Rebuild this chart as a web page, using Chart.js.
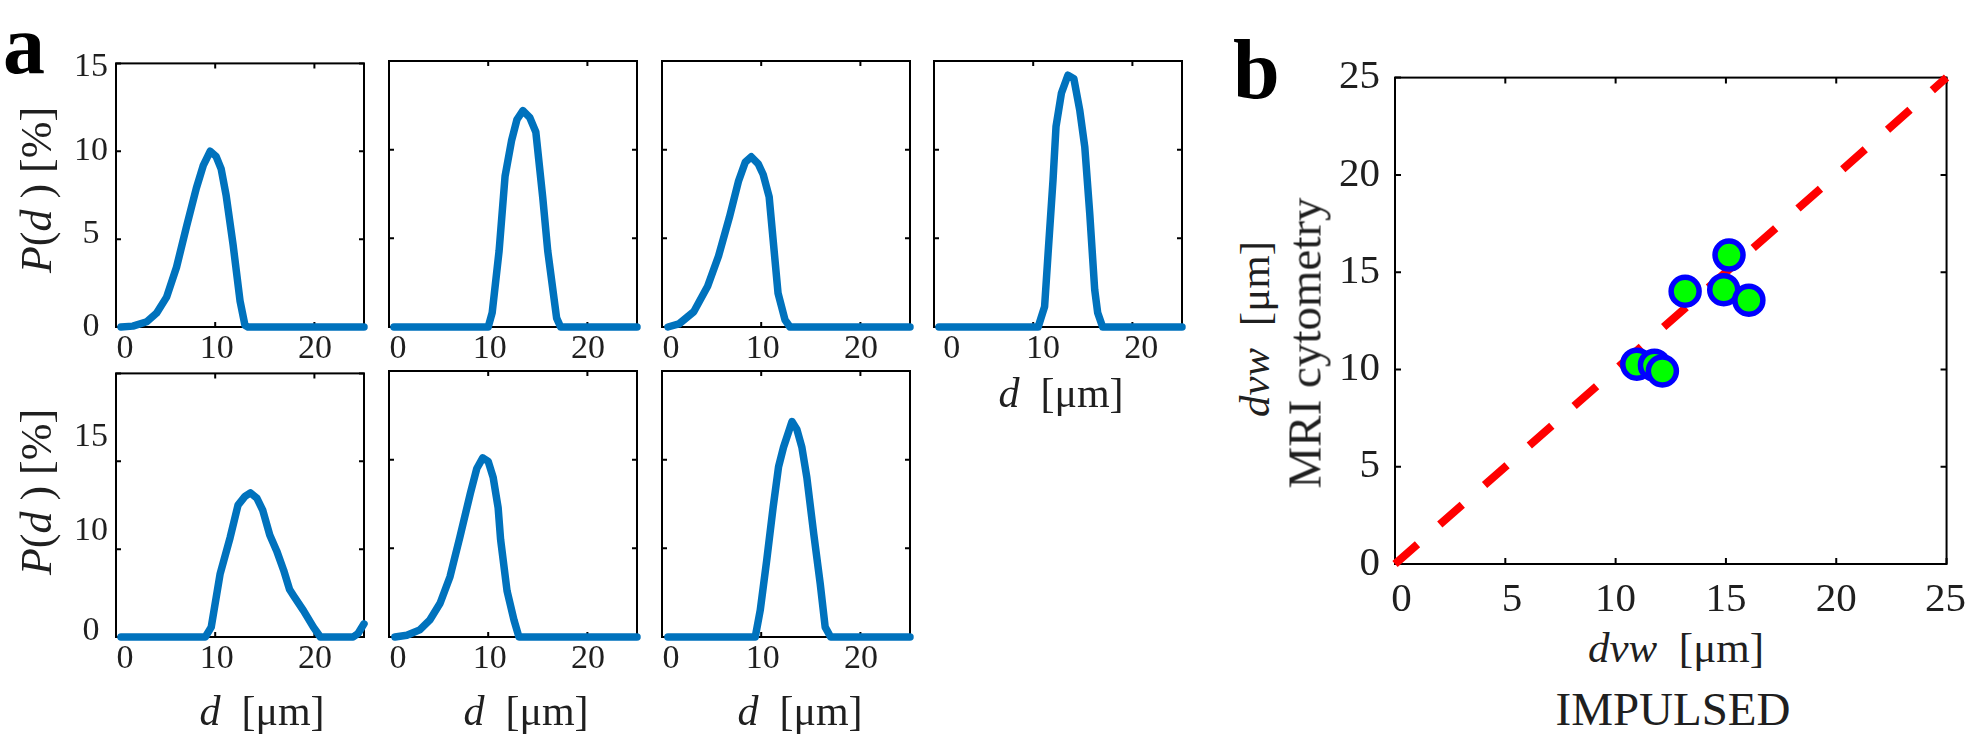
<!DOCTYPE html>
<html>
<head>
<meta charset="utf-8">
<script src="https://cdn.jsdelivr.net/npm/chart.js@4.4.1/dist/chart.umd.min.js"></script>
<style>
  body { margin: 0; background: #fff; }
  #fig { position: relative; width: 1976px; height: 741px; overflow: hidden;
         font-family: "Liberation Serif", "Times New Roman", serif; color: #1f1f1f; }
  .box { position: absolute; }
  .t { position: absolute; white-space: nowrap; line-height: 1; }
  .mid { transform: translateX(-50%); }
  .rot { transform: translate(-50%, -50%) rotate(-90deg); }
</style>
</head>
<body>
<div id="fig"></div>
<script>
// ---- size distributions P(d), one pair of arrays per small panel ----
const dA = [0.5, 1.7, 3.1, 4.1, 5.1, 6.1, 7.1, 8.1, 8.8, 9.5, 10.1, 10.6, 11.1, 11.8, 12.5, 13.0, 13.3, 25];
const pA = [0, 0.05, 0.3, 0.8, 1.7, 3.4, 5.7, 7.9, 9.2, 10.0, 9.7, 9.0, 7.5, 4.7, 1.5, 0.1, 0, 0];
const dB = [0.5, 10.0, 10.4, 11.1, 11.7, 12.35, 12.9, 13.5, 14.2, 14.8, 15.5, 16.0, 16.9, 17.3, 25];
const pB = [0, 0, 0.8, 4.3, 8.5, 10.5, 11.7, 12.2, 11.8, 11.0, 7.3, 4.3, 0.5, 0, 0];
const dC = [0.6, 1.7, 3.2, 4.6, 5.7, 6.8, 7.7, 8.4, 9.0, 9.7, 10.2, 10.8, 11.7, 12.4, 12.9, 25];
const pC = [0, 0.17, 0.86, 2.3, 4.0, 6.2, 8.2, 9.3, 9.6, 9.2, 8.6, 7.35, 1.9, 0.4, 0, 0];
const dD = [0.5, 10.5, 11.15, 11.5, 12.0, 12.3, 12.85, 13.5, 14.1, 14.7, 15.2, 15.7, 16.2, 16.5, 17.0, 25];
const pD = [0, 0, 1.15, 4.15, 8.3, 11.3, 13.2, 14.2, 14.0, 12.2, 10.15, 6.4, 2.1, 0.8, 0, 0];
const dE = [0.5, 9.0, 9.6, 10.5, 11.5, 12.3, 13.0, 13.55, 14.2, 14.8, 15.5, 16.2, 16.9, 17.5, 17.9, 18.9, 19.9, 20.6, 23.9, 24.4, 25];
const pE = [0, 0, 0.56, 3.6, 5.65, 7.5, 8.0, 8.2, 7.9, 7.2, 5.8, 4.9, 3.8, 2.7, 2.35, 1.5, 0.56, 0, 0, 0.2, 0.75];
const dF = [0.6, 1.8, 3.1, 4.1, 5.15, 6.15, 7.15, 8.2, 8.85, 9.45, 10.0, 10.5, 11.0, 11.25, 11.9, 12.6, 13.1, 25];
const pF = [0, 0.1, 0.4, 0.95, 1.9, 3.4, 5.65, 8.1, 9.5, 10.1, 9.9, 9.0, 7.3, 5.5, 2.6, 0.95, 0, 0];
const dG = [0.6, 9.4, 9.9, 10.55, 11.2, 11.75, 12.25, 12.9, 13.1, 13.6, 14.1, 14.6, 15.3, 15.95, 16.45, 17.0, 25];
const pG = [0, 0, 1.5, 4.3, 7.3, 9.6, 10.7, 11.8, 12.15, 11.7, 10.7, 9.0, 5.8, 3.0, 0.56, 0, 0];

// ---- panel b: mean sizes, IMPULSED vs MRI cytometry ----
const impulsed = [10.96, 11.76, 12.12, 13.15, 14.9, 15.14, 16.04];
const mriCyto = [10.27, 10.22, 9.92, 14.02, 14.1, 15.88, 13.56];
const identity = [0, 25];

// ---- ticks ----
const dTicks = [0, 10, 20];
const dTickLabels = ['0', '10', '20'];
const dLabelAt = [0.9, 10.15, 20.05];
const dLabelAtLast = [1.8, 11.0, 20.9];
const pTicks = [0, 5, 10, 15];
const pTickLabels = ['0', '5', '10', '15'];
const pLabelAt = [0, 5.3, 10, 14.8];
const pLowerLabels = ['0', '10', '15'];
const pLowerAt = [0.35, 6.0, 11.4];
const bTicks = [0, 5, 10, 15, 20, 25];
const bTickLabels = ['0', '5', '10', '15', '20', '25'];
const bxLabelAt = [0.3, 5.3, 10, 15, 20, 24.95];

const SERIF = '"Liberation Serif", "Times New Roman", serif';
const INK = '#1f1f1f';
const fig = document.getElementById('fig');

// box + inward tick marks, drawn under the data like MATLAB axes
const framePlugin = {
    id: 'frame',
    beforeDatasetsDraw(chart, args, opts) {
        const {ctx, chartArea: a, scales: {x, y}} = chart;
        ctx.save();
        ctx.strokeStyle = '#000';
        ctx.lineWidth = 2;
        ctx.strokeRect(a.left, a.top, a.width, a.height);
        ctx.beginPath();
        opts.xMarks.forEach(v => {
            const px = x.getPixelForValue(v);
            ctx.moveTo(px, a.bottom); ctx.lineTo(px, a.bottom - opts.len);
            ctx.moveTo(px, a.top); ctx.lineTo(px, a.top + opts.len);
        });
        opts.yMarks.forEach(v => {
            const py = y.getPixelForValue(v);
            ctx.moveTo(a.left, py); ctx.lineTo(a.left + opts.len, py);
            ctx.moveTo(a.right, py); ctx.lineTo(a.right - opts.len, py);
        });
        ctx.stroke();
        ctx.restore();
    }
};

function makeAxis(min, max, at, labels, show, size, padding, fitFn, cross) {
    return {
        type: 'linear', min: min, max: max,
        grid: {display: false, drawTicks: false},
        border: {display: false},
        afterBuildTicks: s => { s.ticks = at.map(v => ({value: v})); },
        afterFit: fitFn,
        ticks: {
            display: show, autoSkip: false, maxRotation: 0, padding: padding,
            crossAlign: cross || 'near',
            color: INK, font: {family: SERIF, size: size},
            callback: (v, i) => labels[i]
        }
    };
}

function panel(geo, pad, datasets, scales, frame) {
    const wrap = document.createElement('div');
    wrap.className = 'box';
    wrap.style.left = (geo.x - pad.l) + 'px';
    wrap.style.top = (geo.y - pad.t) + 'px';
    const cv = document.createElement('canvas');
    const w = geo.w + pad.l + pad.r, h = geo.h + pad.t + pad.b;
    cv.width = w; cv.height = h;
    cv.style.width = w + 'px'; cv.style.height = h + 'px';
    wrap.appendChild(cv);
    fig.appendChild(wrap);
    new Chart(cv, {
        type: 'scatter',
        data: {datasets: datasets},
        options: {
            responsive: false, animation: false, devicePixelRatio: 1,
            layout: {padding: {left: 0, top: pad.t, right: pad.r, bottom: 0}, autoPadding: false},
            plugins: {legend: {display: false}, tooltip: {enabled: false}, frame: frame},
            scales: scales
        },
        plugins: [framePlugin]
    });
}

function pts(xs, ys) {
    return xs.map((x, i) => ({x: x, y: ys[i]}));
}

// small distribution panels
const W = 248, H = 266;
const cols = [116, 389, 662, 934];
const rows = [61, 371];
const smallPad = {l: 70, t: 26, r: 14, b: 50};

const small = [
    {d: dA, p: pA, c: 0, r: 0, yl: true},
    {d: dB, p: pB, c: 1, r: 0},
    {d: dC, p: pC, c: 2, r: 0},
    {d: dD, p: pD, c: 3, r: 0, xAt: dLabelAtLast},
    {d: dE, p: pE, c: 0, r: 1, yl: true},
    {d: dF, p: pF, c: 1, r: 1},
    {d: dG, p: pG, c: 2, r: 1}
];

small.forEach(s => {
    const lower = s.r === 1;
    panel(
        {x: cols[s.c], y: rows[s.r], w: W, h: H},
        smallPad,
        [{
            data: pts(s.d, s.p), showLine: true,
            borderColor: '#0072BD', borderWidth: 7.5,
            borderCapStyle: 'round', borderJoinStyle: 'round',
            pointRadius: 0, tension: 0, clip: false
        }],
        {
            x: makeAxis(0, 25, s.xAt || dLabelAt, dTickLabels, true, 34, 2,
                sc => { sc.height = smallPad.b; }),
            y: makeAxis(0, 15, lower ? pLowerAt : pLabelAt, lower ? pLowerLabels : pTickLabels,
                !!s.yl, 34, 8, sc => { sc.width = smallPad.l; }, 'center')
        },
        {xMarks: dTicks, yMarks: pTicks, len: 5}
    );
});

// panel b
const bPad = {l: 80, t: 32, r: 24, b: 60};
panel(
    {x: 1395, y: 70, w: 559, h: 494},
    bPad,
    [
        {
            data: pts(impulsed, mriCyto), order: 0,
            pointRadius: 14, pointBorderWidth: 5.5,
            pointBackgroundColor: '#00ff00', pointBorderColor: '#0000ff',
            clip: false
        },
        {
            data: pts(identity, identity), order: 1, showLine: true,
            borderColor: '#ff0000', borderWidth: 8, borderDash: [30, 29.7],
            pointRadius: 0, clip: false
        }
    ],
    {
        x: makeAxis(0, 25, bxLabelAt, bTickLabels, true, 41, 12, sc => { sc.height = bPad.b; }),
        y: makeAxis(0, 25, bTicks, bTickLabels, true, 41, 15, sc => { sc.width = bPad.l; })
    },
    {xMarks: bTicks, yMarks: bTicks, len: 6}
);

// ---- text overlays (baseline-positioned, Liberation Serif metrics) ----
function text(html, fs, x, base, o) {
    o = o || {};
    const el = document.createElement('div');
    el.className = 't' + (o.center ? ' mid' : '');
    el.innerHTML = html;
    el.style.fontSize = fs + 'px';
    if (o.bold) el.style.fontWeight = 'bold';
    if (o.color) el.style.color = o.color;
    el.style.left = x + 'px';
    el.style.top = (base - 0.8375 * fs) + 'px';
    fig.appendChild(el);
}
// vertical text: bx = screen x of the baseline, cy = centre
function vtext(html, fs, bx, cy) {
    const el = document.createElement('div');
    el.className = 't rot';
    el.innerHTML = html;
    el.style.fontSize = fs + 'px';
    el.style.left = (bx - 0.3375 * fs) + 'px';
    el.style.top = cy + 'px';
    fig.appendChild(el);
}

text('a', 84, 3, 73, {bold: true, color: '#000'});
text('b', 84, 1233, 98, {bold: true, color: '#000'});

const pLabel = '<i>P</i>(<i>d</i> ) [%]';
vtext(pLabel, 44, 52, 190);
vtext(pLabel, 44, 52, 492);

const dLabel = '<i>d</i>&nbsp;&nbsp;[\u03bcm]';
text(dLabel, 42, 1061, 407, {center: true});
text(dLabel, 42, 262, 725, {center: true});
text(dLabel, 42, 526, 725, {center: true});
text(dLabel, 42, 800, 725, {center: true});

const dvwLabel = '<i>dvw</i>&nbsp;&nbsp;[\u03bcm]';
text(dvwLabel, 43, 1676, 662, {center: true});
text('IMPULSED', 47, 1673, 725, {center: true});
vtext(dvwLabel, 43, 1269, 329);
vtext('MRI cytometry', 47, 1321, 343);
</script>
</body>
</html>
